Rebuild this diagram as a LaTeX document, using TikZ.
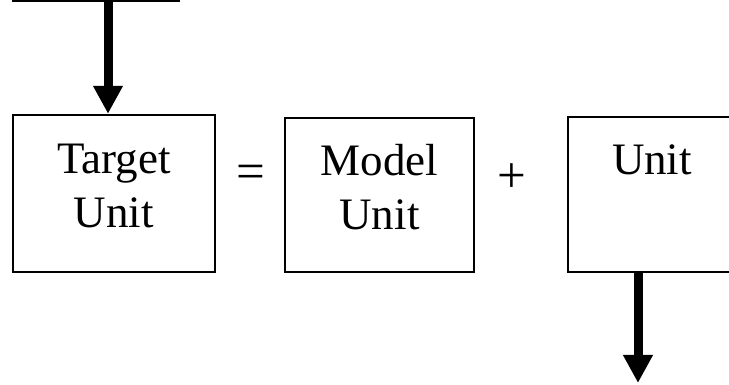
\documentclass[tikz,border=0pt]{standalone}
\usepackage{fontspec}
\setmainfont{Liberation Serif}
\usetikzlibrary{arrows.meta}

\begin{document}
\begin{tikzpicture}[x=1pt,y=1pt,
    unitbox/.style={draw,line width=2.4pt,inner sep=0pt,align=center,
      font=\fontsize{45}{54}\selectfont,text height=84pt,text depth=15pt},
    optext/.style={font=\fontsize{51}{60}\selectfont,inner sep=0pt},
    bigarrow/.style={line width=9pt,-{Triangle[width=28pt,length=28pt]}}]
    \useasboundingbox (0,0) rectangle (729,385);
    \node[unitbox,minimum width=166pt,minimum height=60pt,text height=0pt,text depth=0pt] (src) at (96,414) {};
    \node[unitbox,minimum width=202pt,minimum height=157pt] (tgt) at (114,191.5) {Target\\Unit};
    \node[optext] (eq) at (251,208) {=};
    \node[unitbox,minimum width=189pt,minimum height=154pt] (mdl) at (379.5,190) {Model\\Unit};
    \node[optext] (plus) at (512,207) {+};
    \node[unitbox,minimum width=168pt,minimum height=155pt] (unt) at (652,190.5) {Unit\\\mbox{}};
    \coordinate (out) at (638,2);

    \draw[bigarrow] ([xshift=-6pt]tgt.north |- src.south) -- ([xshift=-6pt]tgt.north);
    \draw[bigarrow] (unt.south -| out) -- (out);
\end{tikzpicture}
\end{document}
